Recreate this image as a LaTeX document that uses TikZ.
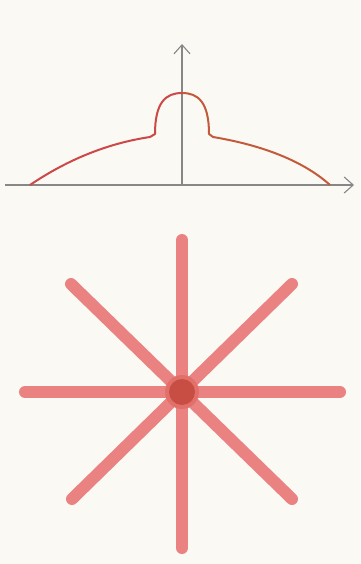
\documentclass[tikz,border=0pt]{standalone}
\usetikzlibrary{arrows.meta}
\definecolor{paper}{RGB}{250,249,244}
\definecolor{axisgray}{RGB}{135,135,135}
\definecolor{curvered}{RGB}{205,72,72}
\definecolor{curveorange}{RGB}{195,90,60}
\definecolor{armpink}{RGB}{234,130,130}
\definecolor{dotred}{RGB}{200,78,68}
\definecolor{halo}{RGB}{226,112,106}
\tikzset{
  axisline/.style={draw=axisgray, line width=1.1pt, -{Straight Barb[length=9pt,width=16pt]}},
  curveline/.style={line width=2pt, line join=round},
  arm/.style={draw=armpink, line width=12pt, line cap=round}
}
\begin{document}
\begin{tikzpicture}[x=1pt,y=-1pt]
\fill[paper] (0,0) rectangle (360,564);
\useasboundingbox (0,0) rectangle (360,564);
% axes
\coordinate (origin) at (182,185);
\coordinate (xleft) at (5,185);
\coordinate (xend) at (354,185);
\coordinate (yend) at (182,44);
\draw[axisline] (xleft) -- (xend);
\draw[axisline] (origin) -- (yend);
% curve
\draw[curveline, draw=curvered] (30,185) .. controls (70,158) and (110,143) .. (150,137) -- (155,134)
  .. controls (155,102) and (166,93) .. (182,93);
\draw[curveline, draw=curveorange] (182,93) .. controls (198,93) and (209,102) .. (209,134) -- (213,137)
  .. controls (255,144) and (300,158) .. (330,185);
% star
\coordinate (c) at (182,392);
\coordinate (n) at (182,240);
\coordinate (s) at (182,548);
\coordinate (w) at (25,392);
\coordinate (e) at (340,392);
\coordinate (nw) at (71,284);
\coordinate (ne) at (292,284);
\coordinate (sw) at (72,499);
\coordinate (se) at (292,499);
\draw[arm] (n) -- (s);
\draw[arm] (w) -- (e);
\draw[arm] (nw) -- (se);
\draw[arm] (ne) -- (sw);
\fill[halo] (c) circle (17);
\fill[dotred] (c) circle (13);
\end{tikzpicture}
\end{document}
